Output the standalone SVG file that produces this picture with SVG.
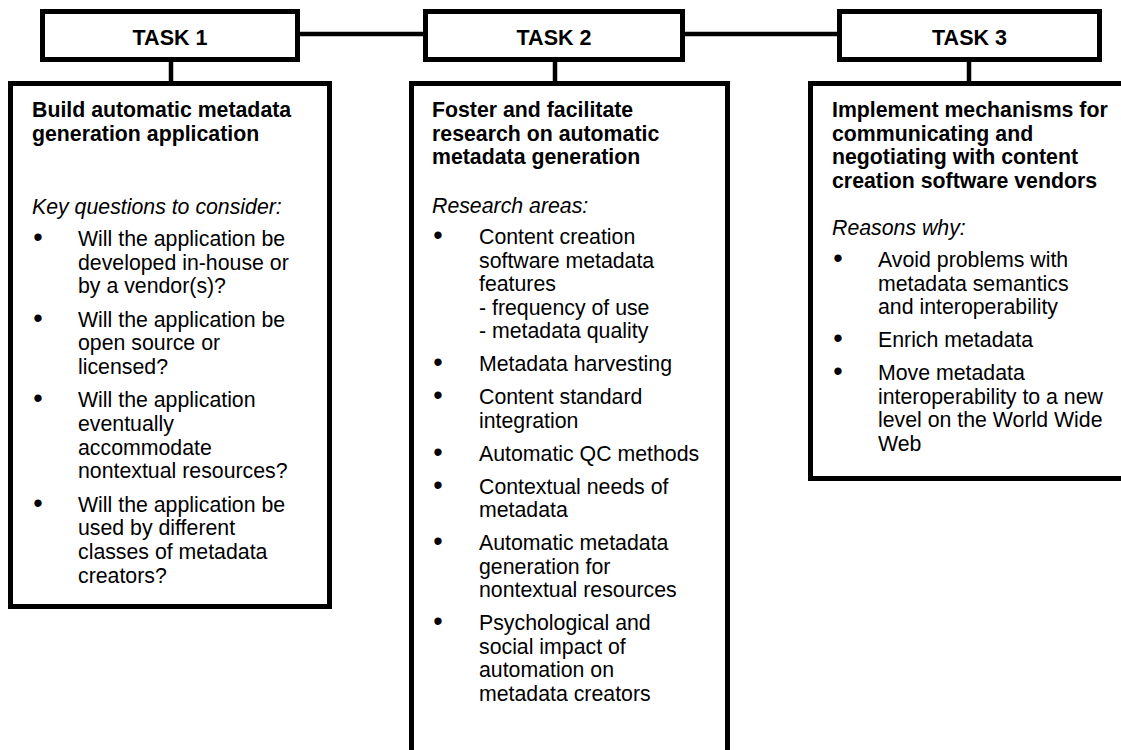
<svg xmlns="http://www.w3.org/2000/svg" width="1121" height="750" viewBox="0 0 1121 750">
<style>
.box{fill:#fff;stroke:#000;stroke-width:5}
.con{stroke:#000;stroke-width:4.5;fill:none}
text{font-family:"Liberation Sans",Arial,sans-serif;font-size:21.3px;fill:#000}
.t{font-weight:bold;text-anchor:middle;font-size:21.5px}
.h{font-weight:bold}
.i{font-style:italic}
.b{text-anchor:middle;font-size:27px}
</style>
<rect width="1121" height="750" fill="#fff"/>
<g id="connectors">
<line class="con" x1="300" y1="34" x2="423" y2="34"/>
<line class="con" x1="685" y1="34" x2="837" y2="34"/>
<line class="con" x1="171" y1="60" x2="171" y2="84"/>
<line class="con" x1="555" y1="60" x2="555" y2="84"/>
<line class="con" x1="969" y1="60" x2="969" y2="84"/>
</g>
<g id="task1">
<rect class="box" x="42.5" y="11.5" width="255" height="48"/>
<text class="t" x="170" y="45">TASK 1</text>
</g>
<g id="task2">
<rect class="box" x="425.5" y="11.5" width="257" height="48"/>
<text class="t" x="554" y="45">TASK 2</text>
</g>
<g id="task3">
<rect class="box" x="839.5" y="11.5" width="260" height="48"/>
<text class="t" x="969.5" y="45">TASK 3</text>
</g>
<g id="body1">
<rect class="box" x="10.5" y="83.5" width="319" height="523"/>
<text class="h" x="32" y="117">Build automatic metadata</text>
<text class="h" x="32" y="140.5">generation application</text>
<text class="i" x="32" y="214">Key questions to consider:</text>
<text class="b" x="38" y="246">•</text>
<text x="78" y="246">Will the application be</text>
<text x="78" y="269.7">developed in-house or</text>
<text x="78" y="293.4">by a vendor(s)?</text>
<text class="b" x="38" y="326.6">•</text>
<text x="78" y="326.6">Will the application be</text>
<text x="78" y="350.3">open source or</text>
<text x="78" y="374">licensed?</text>
<text class="b" x="38" y="407.2">•</text>
<text x="78" y="407.2">Will the application</text>
<text x="78" y="430.9">eventually</text>
<text x="78" y="454.6">accommodate</text>
<text x="78" y="478.3">nontextual resources?</text>
<text class="b" x="38" y="511.5">•</text>
<text x="78" y="511.5">Will the application be</text>
<text x="78" y="535.2">used by different</text>
<text x="78" y="558.9">classes of metadata</text>
<text x="78" y="582.6">creators?</text>
</g>
<g id="body2">
<rect class="box" x="411.5" y="83.5" width="316" height="700"/>
<text class="h" x="432" y="117">Foster and facilitate</text>
<text class="h" x="432" y="140.5">research on automatic</text>
<text class="h" x="432" y="164">metadata generation</text>
<text class="i" x="432" y="213">Research areas:</text>
<text class="b" x="438" y="244">•</text>
<text x="479" y="244">Content creation</text>
<text x="479" y="267.5">software metadata</text>
<text x="479" y="291">features</text>
<text x="479" y="314.5">- frequency of use</text>
<text x="479" y="338">- metadata quality</text>
<text class="b" x="438" y="371">•</text>
<text x="479" y="371">Metadata harvesting</text>
<text class="b" x="438" y="404">•</text>
<text x="479" y="404">Content standard</text>
<text x="479" y="427.5">integration</text>
<text class="b" x="438" y="460.5">•</text>
<text x="479" y="460.5">Automatic QC methods</text>
<text class="b" x="438" y="493.5">•</text>
<text x="479" y="493.5">Contextual needs of</text>
<text x="479" y="517">metadata</text>
<text class="b" x="438" y="550">•</text>
<text x="479" y="550">Automatic metadata</text>
<text x="479" y="573.5">generation for</text>
<text x="479" y="597">nontextual resources</text>
<text class="b" x="438" y="630">•</text>
<text x="479" y="630">Psychological and</text>
<text x="479" y="653.5">social impact of</text>
<text x="479" y="677">automation on</text>
<text x="479" y="700.5">metadata creators</text>
</g>
<g id="body3">
<rect class="box" x="810.5" y="83.5" width="320" height="395"/>
<text class="h" x="832" y="117">Implement mechanisms for</text>
<text class="h" x="832" y="140.5">communicating and</text>
<text class="h" x="832" y="164">negotiating with content</text>
<text class="h" x="832" y="187.5">creation software vendors</text>
<text class="i" x="832" y="235">Reasons why:</text>
<text class="b" x="838" y="267">•</text>
<text x="878" y="267">Avoid problems with</text>
<text x="878" y="290.5">metadata semantics</text>
<text x="878" y="314">and interoperability</text>
<text class="b" x="838" y="347">•</text>
<text x="878" y="347">Enrich metadata</text>
<text class="b" x="838" y="380">•</text>
<text x="878" y="380">Move metadata</text>
<text x="878" y="403.5">interoperability to a new</text>
<text x="878" y="427">level on the World Wide</text>
<text x="878" y="450.5">Web</text>
</g>
</svg>
